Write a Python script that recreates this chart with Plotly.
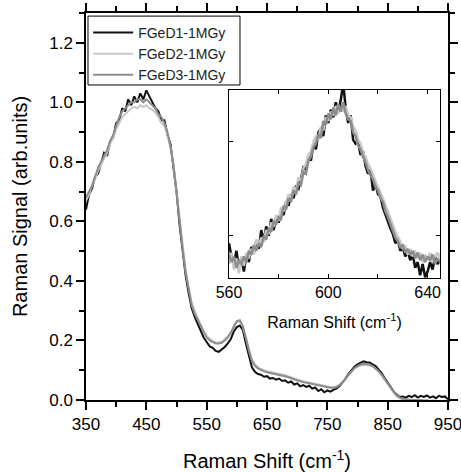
import plotly.graph_objects as go

# ---------------- main spectra (350-950 cm-1, step 5) ----------------
shift = list(range(350, 951, 5))

fged1 = [0.64, 0.69, 0.71, 0.75, 0.76, 0.80, 0.83, 0.82, 0.87, 0.88,
         0.93, 0.94, 0.98, 0.97, 1.01, 0.99, 1.02, 1.00, 1.03, 1.01,
         1.04, 1.02, 1.00, 0.98, 0.97, 0.94, 0.94, 0.89, 0.86, 0.78,
         0.70, 0.59, 0.50, 0.42, 0.36, 0.31, 0.28, 0.255, 0.23, 0.21,
         0.195, 0.18, 0.175, 0.165, 0.162, 0.17, 0.178, 0.19, 0.205, 0.23,
         0.245, 0.25, 0.235, 0.19, 0.145, 0.11, 0.095, 0.087, 0.085, 0.078,
         0.080, 0.072, 0.074, 0.068, 0.072, 0.064, 0.066, 0.058, 0.062, 0.052,
         0.056, 0.046, 0.050, 0.044, 0.048, 0.038, 0.042, 0.030, 0.036, 0.026,
         0.032, 0.028, 0.034, 0.038, 0.046, 0.058, 0.072, 0.088, 0.102, 0.112,
         0.120, 0.126, 0.130, 0.127, 0.126, 0.120, 0.114, 0.102, 0.090, 0.074,
         0.058, 0.042, 0.028, 0.018, 0.010, 0.012, 0.008, 0.014, 0.010, 0.016,
         0.008, 0.014, 0.010, 0.015, 0.008, 0.012, 0.006, 0.014, 0.010, 0.012,
         0.002]

fged2 = [0.67, 0.69, 0.72, 0.74, 0.77, 0.79, 0.81, 0.83, 0.86, 0.88,
         0.91, 0.93, 0.95, 0.96, 0.97, 0.98, 0.985, 0.98, 0.99, 0.985,
         0.99, 0.98, 0.975, 0.965, 0.95, 0.93, 0.92, 0.89, 0.85, 0.79,
         0.70, 0.61, 0.52, 0.44, 0.38, 0.33, 0.30, 0.275, 0.25, 0.23,
         0.215, 0.205, 0.198, 0.194, 0.193, 0.196, 0.203, 0.213, 0.228, 0.25,
         0.262, 0.264, 0.246, 0.212, 0.17, 0.136, 0.12, 0.11, 0.104, 0.10,
         0.097, 0.095, 0.093, 0.091, 0.089, 0.086, 0.083, 0.080, 0.076, 0.072,
         0.069, 0.066, 0.063, 0.061, 0.058, 0.056, 0.053, 0.051, 0.049, 0.047,
         0.045, 0.044, 0.044, 0.046, 0.051, 0.060, 0.071, 0.084, 0.096, 0.106,
         0.112, 0.116, 0.118, 0.118, 0.116, 0.112, 0.105, 0.095, 0.083, 0.068,
         0.053, 0.038, 0.025, 0.013, 0.005, 0.000, -0.002, -0.003, -0.004, -0.003,
         -0.005, -0.004, -0.006, -0.005, -0.006, -0.007, -0.006, -0.007, -0.008, -0.007,
         -0.008]

fged3 = [0.68, 0.70, 0.72, 0.75, 0.78, 0.80, 0.82, 0.84, 0.87, 0.89,
         0.92, 0.95, 0.97, 0.98, 0.99, 1.00, 1.00, 1.01, 1.01, 1.00,
         1.01, 1.00, 0.99, 0.98, 0.96, 0.95, 0.93, 0.90, 0.85, 0.79,
         0.70, 0.60, 0.51, 0.43, 0.37, 0.32, 0.29, 0.27, 0.245, 0.225,
         0.21, 0.20, 0.195, 0.19, 0.19, 0.192, 0.20, 0.21, 0.225, 0.248,
         0.265, 0.268, 0.248, 0.21, 0.165, 0.132, 0.115, 0.106, 0.100, 0.096,
         0.093, 0.091, 0.089, 0.087, 0.085, 0.083, 0.080, 0.077, 0.073, 0.069,
         0.066, 0.063, 0.060, 0.058, 0.055, 0.053, 0.050, 0.048, 0.046, 0.044,
         0.042, 0.041, 0.041, 0.043, 0.049, 0.058, 0.070, 0.084, 0.097, 0.107,
         0.114, 0.119, 0.121, 0.121, 0.119, 0.114, 0.107, 0.097, 0.085, 0.070,
         0.055, 0.040, 0.027, 0.016, 0.008, 0.004, 0.002, 0.001, 0.000, 0.001,
         -0.001, 0.000, -0.002, -0.001, -0.003, -0.002, -0.004, -0.003, -0.005, -0.004,
         -0.006]

# ---------------- inset (560-645 cm-1, step 1) ----------------
inset_shift = list(range(560, 646))

inset1 = [0.92, 0.78, 0.70, 0.84, 0.66, 0.76, 0.62, 0.80, 0.72, 0.88,
          0.82, 0.94, 0.86, 1.06, 0.94, 1.10, 1.00, 1.18, 1.06, 1.20,
          1.14, 1.26, 1.22, 1.36, 1.32, 1.44, 1.40, 1.52, 1.50, 1.60,
          1.74, 1.70, 1.84, 1.80, 1.98, 1.92, 2.10, 2.14, 2.06, 2.28,
          2.20, 2.34, 2.26, 2.42, 2.32, 2.44, 2.62, 2.36, 2.20, 2.28,
          2.02, 1.98, 2.00, 1.86, 1.90, 1.74, 1.66, 1.70, 1.48, 1.56,
          1.44, 1.42, 1.30, 1.22, 1.16, 1.08, 1.02, 0.92, 0.96, 0.84,
          0.88, 0.78, 0.84, 0.74, 0.80, 0.66, 0.72, 0.58, 0.70, 0.56,
          0.62, 0.72, 0.64, 0.78, 0.70, 0.74]

inset2 = [0.70, 0.82, 0.64, 0.76, 0.60, 0.78, 0.68, 0.82, 0.76, 0.86,
          0.80, 0.96, 0.90, 0.98, 0.94, 1.06, 1.02, 1.14, 1.10, 1.22,
          1.16, 1.30, 1.26, 1.34, 1.44, 1.40, 1.52, 1.48, 1.62, 1.58,
          1.72, 1.76, 1.86, 1.90, 2.00, 2.06, 2.02, 2.16, 2.12, 2.26,
          2.22, 2.32, 2.28, 2.38, 2.30, 2.36, 2.32, 2.38, 2.28, 2.26,
          2.16, 2.12, 2.02, 1.98, 1.88, 1.84, 1.76, 1.72, 1.64, 1.58,
          1.52, 1.46, 1.40, 1.32, 1.26, 1.18, 1.12, 1.04, 0.98, 0.94,
          0.86, 0.90, 0.80, 0.86, 0.78, 0.84, 0.76, 0.82, 0.72, 0.80,
          0.74, 0.82, 0.72, 0.78, 0.82, 0.76]

inset3 = [0.80, 0.72, 0.78, 0.66, 0.74, 0.70, 0.78, 0.72, 0.84, 0.80,
          0.90, 0.84, 0.92, 0.88, 1.00, 0.96, 1.08, 1.04, 1.16, 1.12,
          1.20, 1.18, 1.32, 1.28, 1.40, 1.36, 1.48, 1.44, 1.56, 1.54,
          1.68, 1.66, 1.80, 1.84, 1.94, 1.98, 2.08, 2.04, 2.22, 2.18,
          2.30, 2.24, 2.36, 2.28, 2.40, 2.32, 2.42, 2.30, 2.24, 2.22,
          2.10, 2.06, 1.96, 1.92, 1.84, 1.78, 1.70, 1.64, 1.60, 1.52,
          1.48, 1.40, 1.36, 1.26, 1.20, 1.12, 1.06, 0.98, 0.94, 0.88,
          0.90, 0.82, 0.86, 0.80, 0.84, 0.76, 0.82, 0.74, 0.80, 0.72,
          0.78, 0.74, 0.80, 0.70, 0.76, 0.72]

names = ["FGeD1-1MGy", "FGeD2-1MGy", "FGeD3-1MGy"]
colors = ["#111111", "#c8c8c8", "#8c8c8c"]

x_tickvals = [350, 450, 550, 650, 750, 850, 950]
y_tickvals = [0.0, 0.2, 0.4, 0.6, 0.8, 1.0, 1.2]
y_ticktext = ["0.0", "0.2", "0.4", "0.6", "0.8", "1.0", "1.2"]
ix_tickvals = [560, 600, 640]

FONT = "Liberation Sans, Arial, sans-serif"

fig = go.Figure()
for name, ys, c in zip(names, [fged1, fged2, fged3], colors):
    fig.add_trace(go.Scatter(x=shift, y=ys, mode="lines", name=name,
                             line=dict(color=c, width=2), xaxis="x", yaxis="y"))
for name, ys, c in zip(names, [inset1, inset2, inset3], colors):
    fig.add_trace(go.Scatter(x=inset_shift, y=ys, mode="lines", name=name,
                             showlegend=False,
                             line=dict(color=c, width=2.5), xaxis="x2", yaxis="y2"))

axis_common = dict(showline=True, linecolor="black", linewidth=1.5,
                   ticks="outside", ticklen=8, tickwidth=1.5, tickcolor="black",
                   mirror="ticks", showgrid=False, zeroline=False, automargin=False,
                   ticklabeloverflow="allow",
                   tickfont=dict(size=17, color="black", family=FONT))

# legend frame (opaque box behind the legend entries)
fig.add_shape(type="rect", xref="paper", yref="paper",
              x0=0.0055, x1=0.4254, y0=0.814, y1=0.992,
              line=dict(color="black", width=1), fillcolor="white", layer="above")

fig.update_layout(
    width=461, height=472,
    margin=dict(l=86, r=13, t=13, b=72),
    paper_bgcolor="white", plot_bgcolor="white",
    font=dict(family=FONT, color="black"),
    xaxis=dict(domain=[0, 1], range=[350, 950], tickvals=x_tickvals,
               minor=dict(dtick=50, tick0=350, ticks="outside", ticklen=5,
                          tickwidth=1.5, tickcolor="black", showgrid=False),
               title=dict(text="Raman Shift (cm<sup>-1</sup>)", font=dict(size=20), standoff=22),
               **axis_common),
    yaxis=dict(domain=[0, 1], range=[0, 1.3], tickvals=y_tickvals, ticktext=y_ticktext,
               minor=dict(dtick=0.1, tick0=0, ticks="outside", ticklen=5,
                          tickwidth=1.5, tickcolor="black", showgrid=False),
               title=dict(text="Raman Signal (arb.units)", font=dict(size=20), standoff=16),
               **axis_common),
    xaxis2=dict(domain=[0.395, 0.978], anchor="y2", range=[560, 645],
                tickvals=ix_tickvals,
                minor=dict(dtick=20, tick0=560, ticks="inside", ticklen=4,
                           tickwidth=1, tickcolor="black", showgrid=False),
                showline=True, linecolor="black", linewidth=1, mirror="ticks",
                ticks="inside", ticklen=4, tickwidth=1, tickcolor="black",
                showgrid=False, zeroline=False, automargin=False,
                ticklabeloverflow="allow",
                tickfont=dict(size=16, color="black", family=FONT),
                title=dict(text="Raman Shift (cm<sup>-1</sup>)", font=dict(size=16), standoff=16)),
    yaxis2=dict(domain=[0.315, 0.801], anchor="x2", range=[0.55, 2.55],
                tickvals=[1, 2], showticklabels=False,
                showline=True, linecolor="black", linewidth=1, mirror="ticks",
                ticks="inside", ticklen=4, tickwidth=1, tickcolor="black",
                showgrid=False, zeroline=False, automargin=False),
    legend=dict(x=0.006, y=0.99, xanchor="left", yanchor="top",
                bgcolor="rgba(0,0,0,0)", borderwidth=0,
                font=dict(size=14, color="#222222", family=FONT),
                tracegroupgap=0, itemwidth=40),
    showlegend=True,
)

fig.write_html("out.html", config={"displayModeBar": False},
               post_script="document.body.style.margin='0px';")
